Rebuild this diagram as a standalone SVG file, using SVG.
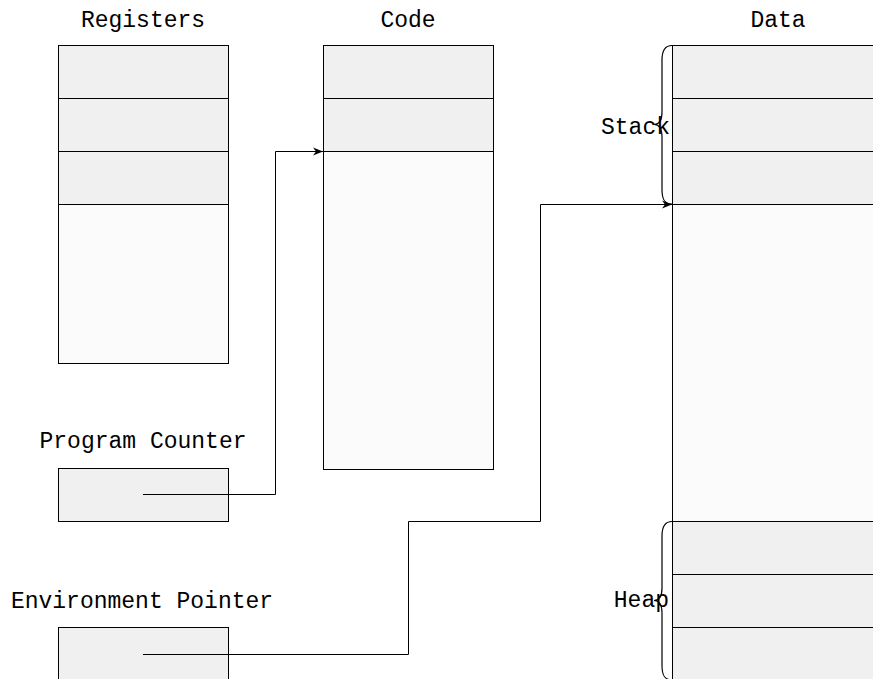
<svg xmlns="http://www.w3.org/2000/svg" width="873" height="679" viewBox="0 0 873 679">
<style>
.cell{fill:#f0f0f0;stroke:#000;stroke-width:1}
.free{fill:#fbfbfb;stroke:#000;stroke-width:1}
.lbl{font-family:"Liberation Mono","DejaVu Sans Mono",monospace;font-size:23px;fill:#000}
.conn{fill:none;stroke:#000;stroke-width:1}
.brace{fill:none;stroke:#000;stroke-width:1.2}
</style>
<defs>
<marker id="arr" viewBox="0 0 10 10" refX="10" refY="5" markerWidth="10" markerHeight="10" markerUnits="userSpaceOnUse" orient="auto">
<path d="M0,1 L10,5 L0,9 L3,5 Z" fill="#000"/>
</marker>
</defs>
<rect width="873" height="679" fill="#fff"/>
<g id="registers">
<text class="lbl" x="143" y="27" text-anchor="middle">Registers</text>
<rect class="free" x="58.5" y="204.5" width="170" height="159"/>
<rect class="cell" x="58.5" y="45.5" width="170" height="53"/>
<rect class="cell" x="58.5" y="98.5" width="170" height="53"/>
<rect class="cell" x="58.5" y="151.5" width="170" height="53"/>
</g>
<g id="code">
<text class="lbl" x="408" y="27" text-anchor="middle">Code</text>
<rect class="free" x="323.5" y="151.5" width="170" height="318"/>
<rect class="cell" x="323.5" y="45.5" width="170" height="53"/>
<rect class="cell" x="323.5" y="98.5" width="170" height="53"/>
</g>
<g id="data">
<text class="lbl" x="778" y="27" text-anchor="middle">Data</text>
<rect class="free" x="672.5" y="204.5" width="220" height="317"/>
<rect class="cell" x="672.5" y="45.5" width="220" height="53"/>
<rect class="cell" x="672.5" y="98.5" width="220" height="53"/>
<rect class="cell" x="672.5" y="151.5" width="220" height="53"/>
<rect class="cell" x="672.5" y="521.5" width="220" height="53"/>
<rect class="cell" x="672.5" y="574.5" width="220" height="53"/>
<rect class="cell" x="672.5" y="627.5" width="220" height="53"/>
</g>
<g id="stack">
<path class="brace" d="M672,45.5 C665,45.5 662,50 662,60 L662,112 C662,120 660,124.5 654,124.5 C660,124.5 662,129 662,137 L662,190 C662,200 665,204 672,204"/>
<text class="lbl" x="670" y="134" text-anchor="end">Stack</text>
</g>
<g id="heap">
<path class="brace" d="M672,521.5 C665,521.5 662,526 662,536 L662,588 C662,596 660,600.5 654,600.5 C660,600.5 662,605 662,613 L662,666 C662,676 665,680 672,680"/>
<text class="lbl" x="669" y="607" text-anchor="end">Heap</text>
</g>
<g id="program-counter">
<text class="lbl" x="143" y="448" text-anchor="middle">Program Counter</text>
<rect class="cell" x="58.5" y="468.5" width="170" height="53"/>
</g>
<g id="environment-pointer">
<text class="lbl" x="142" y="608" text-anchor="middle">Environment Pointer</text>
<rect class="cell" x="58.5" y="627.5" width="170" height="53"/>
</g>
<g id="connectors">
<path class="conn" d="M143,494.5 L275.5,494.5 L275.5,151.5 L323,151.5" marker-end="url(#arr)"/>
<path class="conn" d="M143,654.5 L408.5,654.5 L408.5,521.5 L540.5,521.5 L540.5,204.5 L672,204.5" marker-end="url(#arr)"/>
</g>
</svg>
